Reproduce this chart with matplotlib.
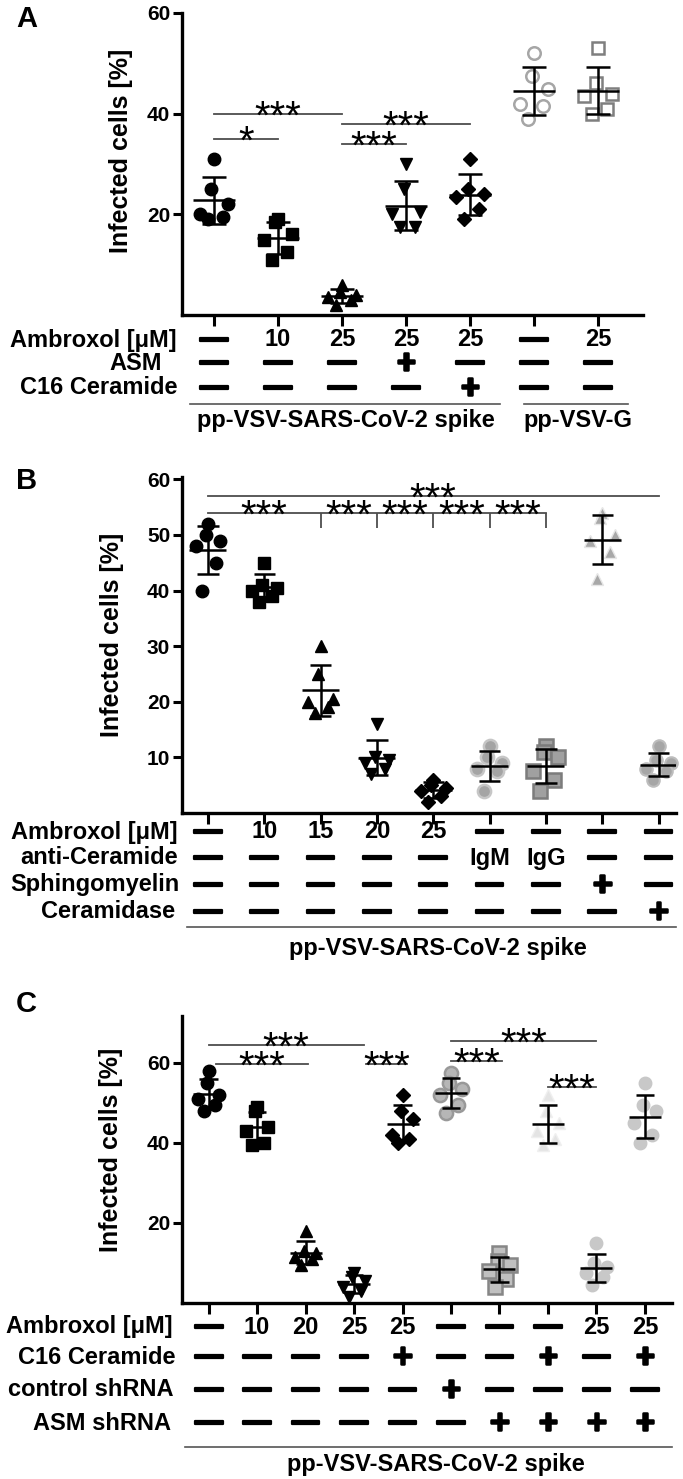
import numpy as np
import matplotlib
matplotlib.use('Agg')
import matplotlib.pyplot as plt
import matplotlib.transforms as mtransforms
import matplotlib.patheffects as pe

# ---------------- data ----------------
# panel A: infected cells [%], six replicates per condition
a_values = [
    [31, 25, 22, 20, 19.5, 19],        # control
    [19, 18.5, 16, 15, 12.5, 11],      # 10 uM
    [6, 4.5, 4, 3.5, 3, 2],            # 25 uM
    [30, 25, 20.5, 20, 17.5, 17.5],    # 25 uM + ASM
    [31, 25, 24, 23.5, 21, 19],        # 25 uM + C16
    [52, 47.5, 45, 42, 41.5, 39],      # VSV-G control
    [53, 46, 44, 43.5, 41, 40],        # VSV-G 25 uM
]
a_rows = ['Ambroxol [μM]', 'ASM', 'C16 Ceramide']
a_ambroxol = ['—', '10', '25', '25', '25', '—', '25']
a_asm = ['—', '—', '—', '+', '—', '—', '—']
a_c16 = ['—', '—', '—', '—', '+', '—', '—']
a_sig = [(0, 2, 40, '***'), (0, 1, 35, '*'), (2, 4, 38, '***'), (2, 3, 34, '***')]
a_virus = ['pp-VSV-SARS-CoV-2 spike', 'pp-VSV-G']

# panel B
b_values = [
    [52, 50, 49, 48, 45, 40],
    [45, 41, 40.5, 40, 39, 38],
    [30, 25, 20.5, 20, 19, 18],
    [16, 10, 9.5, 9, 8, 7],
    [6, 5, 4.5, 4, 3, 2],
    [12, 10, 9, 8, 7.5, 4],
    [12, 11, 10, 7.5, 6, 4],
    [54, 53, 50, 49, 47, 42],
    [12, 9.5, 9, 8, 7.5, 6],
]
b_rows = ['Ambroxol [μM]', 'anti-Ceramide', 'Sphingomyelin', 'Ceramidase']
b_ambroxol = ['—', '10', '15', '20', '25', '—', '—', '—', '—']
b_anticer = ['—', '—', '—', '—', '—', 'IgM', 'IgG', '—', '—']
b_sphingo = ['—', '—', '—', '—', '—', '—', '—', '+', '—']
b_ceramidase = ['—', '—', '—', '—', '—', '—', '—', '—', '+']
b_top_sig = (0, 8, 57, '***')
b_bracket = (0, [2, 3, 4, 5, 6], 54, 51.3, '***')

# panel C
c_values = [
    [58, 55, 52, 51, 49.5, 48],
    [49, 48, 44, 43, 40, 39.5],
    [18, 13, 12.5, 11.5, 11, 9.5],
    [7.5, 6.5, 5.5, 4, 3, 1.5],
    [52, 48, 46, 42, 41, 40],
    [57.5, 55, 53.5, 52, 49.5, 47.5],
    [12.5, 10.5, 9.5, 8, 6, 4],
    [52, 48, 45, 43, 41, 39.5],
    [15, 10, 9, 7.5, 6.5, 4.5],
    [55, 49.5, 48, 45, 42, 40],
]
c_rows = ['Ambroxol [μM]', 'C16 Ceramide', 'control shRNA', 'ASM shRNA']
c_ambroxol = ['—', '10', '20', '25', '25', '—', '—', '—', '25', '25']
c_c16 = ['—', '—', '—', '—', '+', '—', '—', '+', '—', '+']
c_ctrl = ['—', '—', '—', '—', '—', '+', '—', '—', '—', '—']
c_asmsh = ['—', '—', '—', '—', '—', '—', '+', '+', '+', '+']
c_sig = [(0, 3.2, 64.5, '***'), (0.15, 2.05, 59.7, '***'), (3.25, 4.1, 59.7, '***'),
         (5, 8, 65.5, '***'), (5, 6.05, 60.5, '***'), (7, 8, 54, '***')]

# ---------------- styles ----------------
W, H = 683, 1479
FONT = ['Liberation Sans', 'DejaVu Sans']
plt.rcParams['font.family'] = FONT
plt.rcParams['font.weight'] = 'bold'
JITTER = [0.0, -0.04, 0.22, -0.22, 0.14, -0.1]
BLACK = dict(mfc='black', mec='black', mew=1)
STAR_SIZE = 29

fig = plt.figure(figsize=(W / 100, H / 100), dpi=100)


def add_panel(left, right, top, bottom):
    return fig.add_axes([left / W, 1 - bottom / H, (right - left) / W, (bottom - top) / H])


def style_axis(ax, n, xlim, ylim, yticks, ylab_xy):
    ax.set_xlim(*xlim)
    ax.set_ylim(*ylim)
    for s in ['top', 'right']:
        ax.spines[s].set_visible(False)
    for s in ['left', 'bottom']:
        ax.spines[s].set_linewidth(2.4)
    ax.set_xticks(range(n))
    ax.set_xticklabels([])
    ax.set_yticks(yticks)
    ax.tick_params(axis='x', length=8, width=2.2, direction='out')
    ax.tick_params(axis='y', length=6.5, width=2.2, direction='out', pad=2, labelsize=15)
    ax.set_ylabel('Infected cells [%]', fontsize=18, fontweight='bold')
    ax.yaxis.set_label_coords(*ylab_xy)


def draw_groups(ax, values, markers, sizes, styles):
    for i, vals in enumerate(values):
        v = np.array(vals, dtype=float)
        xs = i + np.array(JITTER[:len(v)])
        ax.plot(xs, v, linestyle='none', marker=markers[i], ms=sizes[i], zorder=3,
                clip_on=False, **styles[i])
        m = v.mean()
        sd = v.std(ddof=1)
        ax.hlines(m, i - 0.33, i + 0.33, color='black', lw=1.8, zorder=4)
        ax.hlines([m - sd, m + sd], i - 0.19, i + 0.19, color='black', lw=1.8, zorder=4)
        ax.vlines(i, m - sd, m + sd, color='black', lw=1.8, zorder=4)


def stars(ax, x, y, label):
    ax.annotate(label, xy=(x, y), xytext=(0, -0.36 * STAR_SIZE), textcoords='offset points',
                ha='center', va='baseline', fontsize=STAR_SIZE, fontweight='normal',
                color='black')


def sig_line(ax, x0, x1, y, label):
    ax.plot([x0, x1], [y, y], color='#4d4d4d', lw=1.3, zorder=2, clip_on=False)
    stars(ax, (x0 + x1) / 2, y, label)


def table_rows(ax, labels, rows, row_y, label_right):
    tr = mtransforms.blended_transform_factory(ax.transData, fig.transFigure)
    for k, (lab, cells) in enumerate(zip(labels, rows)):
        y = 1 - row_y[k] / H
        fig.text(label_right[k] / W, y, lab, ha='right', va='center', fontsize=17,
                 fontweight='bold')
        for i, c in enumerate(cells):
            if c == '—':
                ax.text(i, y, c, transform=tr, ha='center', va='center', fontsize=20,
                        fontweight='bold', clip_on=False,
                        path_effects=[pe.withStroke(linewidth=1.6, foreground='black')])
            elif c == '+':
                ax.text(i, y - 1 / H, c, transform=tr, ha='center', va='center', fontsize=24,
                        fontweight='bold', clip_on=False,
                        path_effects=[pe.withStroke(linewidth=1.8, foreground='black')])
            else:
                ax.text(i, y, c, transform=tr, ha='center', va='center', fontsize=17,
                        fontweight='bold', clip_on=False)


def underline(x0px, x1px, ypx):
    fig.add_artist(plt.Line2D([x0px / W, x1px / W], [1 - ypx / H, 1 - ypx / H],
                              color='#555555', lw=1.2, transform=fig.transFigure))


# ---------------- panel A ----------------
axA = add_panel(182, 643, 13, 315)
style_axis(axA, 7, (-0.5, 6.7), (0, 60), [20, 40, 60], (-0.106, 0.545))
a_markers = ['o', 's', '^', 'v', 'D', 'o', 's']
a_sizes = [9, 8.5, 9, 9, 7, 9, 8.5]
a_styles = [BLACK, BLACK, BLACK, BLACK, BLACK,
            dict(mfc='white', mec='#a6a6a6', mew=1.8),
            dict(mfc='white', mec='#7f7f7f', mew=1.8)]
draw_groups(axA, a_values, a_markers, a_sizes, a_styles)
for x0, x1, y, lab in a_sig:
    sig_line(axA, x0, x1, y, lab)
table_rows(axA, a_rows, [a_ambroxol, a_asm, a_c16], [340, 363, 388], [177, 162, 177])
underline(190, 500, 404)
underline(524, 628, 404)
fig.text(346 / W, 1 - 420 / H, a_virus[0], ha='center', va='center', fontsize=17)
fig.text(578 / W, 1 - 420 / H, a_virus[1], ha='center', va='center', fontsize=17)
fig.text(16 / W, 1 - 19 / H, 'A', ha='left', va='center', fontsize=21, fontweight='bold')

# ---------------- panel B ----------------
axB = add_panel(182, 676, 476.6, 813)
style_axis(axB, 9, (-0.46, 8.31), (0, 60.5), [10, 20, 30, 40, 50, 60], (-0.118, 0.53))
b_markers = ['o', 's', '^', 'v', 'D', 'o', 's', '^', 'o']
b_sizes = [9, 8.5, 9, 9, 7, 9.5, 9.5, 9, 9]
b_styles = [BLACK, BLACK, BLACK, BLACK, BLACK,
            dict(mfc='#a4a4a4', mec='#c6c6c6', mew=1.8),
            dict(mfc='#a0a0a0', mec='#7c7c7c', mew=1.8),
            dict(mfc='#a8a8a8', mec='#e6e6e6', mew=1.0),
            dict(mfc='#a6a6a6', mec='#bdbdbd', mew=1.5)]
draw_groups(axB, b_values, b_markers, b_sizes, b_styles)
sig_line(axB, *b_top_sig)
x0, drops, yl, ydrop, lab = b_bracket
axB.plot([x0, drops[-1]], [yl, yl], color='#4d4d4d', lw=1.3, zorder=2)
axB.vlines(drops, ydrop, yl, color='#4d4d4d', lw=1.3, zorder=2)
prev = x0
for d in drops:
    stars(axB, (prev + d) / 2, yl, lab)
    prev = d
table_rows(axB, b_rows, [b_ambroxol, b_anticer, b_sphingo, b_ceramidase],
           [832, 858, 885, 912], [178, 178, 180, 175])
underline(187, 676, 927)
fig.text(438 / W, 1 - 948 / H, 'pp-VSV-SARS-CoV-2 spike', ha='center', va='center', fontsize=17)
fig.text(16 / W, 1 - 481 / H, 'B', ha='left', va='center', fontsize=21, fontweight='bold')

# ---------------- panel C ----------------
axC = add_panel(182, 672, 1016, 1303)
style_axis(axC, 10, (-0.55, 9.56), (0, 71.75), [20, 40, 60], (-0.12, 0.533))
c_markers = ['o', 's', '^', 'v', 'D', 'o', 's', '^', 'o', 'o']
c_sizes = [9, 8.5, 9, 9, 7, 9.5, 9.5, 9, 9, 9]
c_styles = [BLACK, BLACK, BLACK, BLACK, BLACK,
            dict(mfc='#b6b6b6', mec='#999999', mew=1.8),
            dict(mfc='#c0c0c0', mec='#868686', mew=1.8),
            dict(mfc='#e4e4e4', mec='#efefef', mew=1.0),
            dict(mfc='#c8c8c8', mec='#c8c8c8', mew=1),
            dict(mfc='#c8c8c8', mec='#c8c8c8', mew=1)]
draw_groups(axC, c_values, c_markers, c_sizes, c_styles)
for x0, x1, y, lab in c_sig:
    sig_line(axC, x0, x1, y, lab)
table_rows(axC, c_rows, [c_ambroxol, c_c16, c_ctrl, c_asmsh],
           [1327, 1357, 1390, 1423], [173, 175, 174, 171])
underline(185, 672, 1447)
fig.text(436 / W, 1 - 1464 / H, 'pp-VSV-SARS-CoV-2 spike', ha='center', va='center', fontsize=17)
fig.text(16 / W, 1 - 1004 / H, 'C', ha='left', va='center', fontsize=21, fontweight='bold')

fig.savefig('out.png', dpi=100)
